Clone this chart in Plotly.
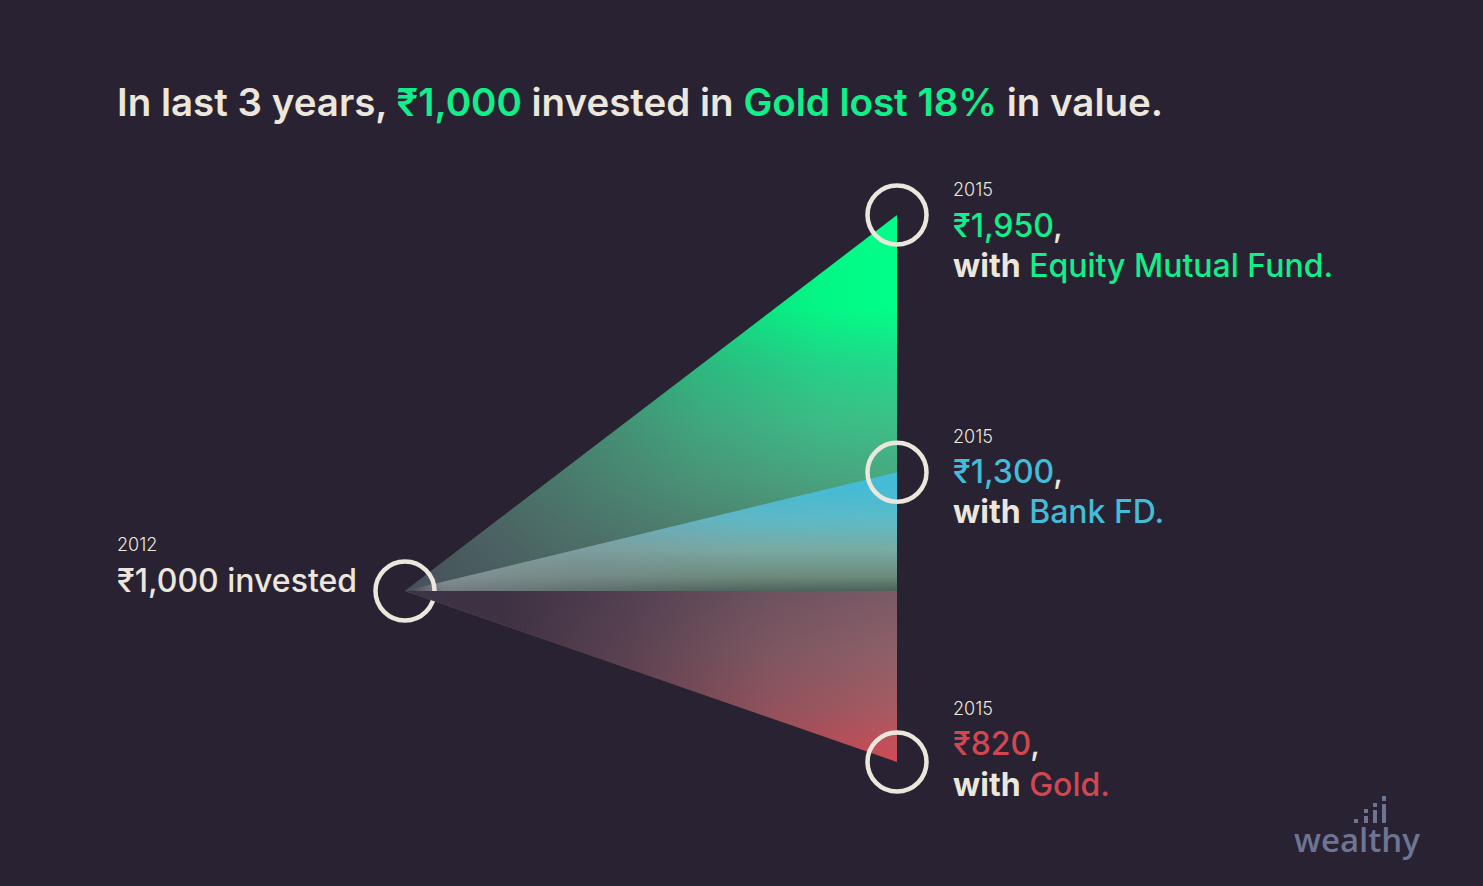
import plotly.graph_objects as go

# ---------------- data ----------------
start_year = 2012
end_year = 2015
invested = 1000
funds = ["Equity Mutual Fund", "Bank FD", "Gold"]
end_values = [1950, 1300, 820]

# ---------------- style ----------------
W, H = 1483, 886
BG = "#282233"
CREAM = "#ece7dc"
GREEN = "#12ef8a"
BLUE = "#45bcd6"
RED = "#d2474f"
fund_colors = [GREEN, BLUE, RED]
FONT = "Inter"


def px(x):
    return x / W


def py(y):
    return 1 - y / H


# vertical gradient of each wedge (0 = lowest value, 1 = highest value)
v_scales = [
    [[0, "#4a6a64"], [0.15, "#4f8a74"], [0.3, "#48a880"], [0.45, "#3cc088"], [0.6, "#22d88a"],
     [0.75, "#00ff88"], [1, "#00ff88"]],
    [[0, "#4c6058"], [0.12, "#6a8a7a"], [0.35, "#78aca4"], [0.6, "#5cbcc8"], [0.85, "#45bcd6"], [1, "#45bcd6"]],
    [[0, "#d24a55"], [0.3, "#a85a62"], [0.65, "#8e6068"], [1, "#7a5a66"]],
]
# horizontal fade towards the starting point
h_scales = [
    [[0, "rgba(70,78,88,0.92)"], [0.3, "rgba(75,90,95,0.62)"], [0.6, "rgba(75,90,95,0.25)"],
     [0.85, "rgba(75,90,95,0.05)"], [1, "rgba(75,90,95,0)"]],
    [[0, "rgba(60,55,72,0.9)"], [0.08, "rgba(150,150,165,0.55)"], [0.35, "rgba(130,135,150,0.4)"],
     [0.7, "rgba(130,135,150,0.08)"], [1, "rgba(130,135,150,0)"]],
    [[0, "rgba(60,52,70,1)"], [0.2, "rgba(50,42,60,0.85)"], [0.45, "rgba(55,45,65,0.6)"],
     [0.75, "rgba(60,50,70,0.2)"], [1, "rgba(60,50,70,0)"]],
]

fig = go.Figure()

for i, (name, val) in enumerate(zip(funds, end_values)):
    yaxis = "y" if val >= invested else "y2"
    xs = [start_year, end_year, end_year, start_year]
    ys = [invested, val, invested, invested]
    fig.add_trace(go.Scatter(x=xs, y=ys, yaxis=yaxis, mode="none", fill="toself",
                             fillgradient=dict(type="vertical", colorscale=v_scales[i]),
                             hoverinfo="skip", showlegend=False))
    fig.add_trace(go.Scatter(x=xs, y=ys, yaxis=yaxis, mode="none", fill="toself",
                             fillgradient=dict(type="horizontal", colorscale=h_scales[i]),
                             hoverinfo="skip", showlegend=False))

circle = dict(symbol="circle-open", size=59, color=CREAM, line=dict(width=4.5, color=CREAM))
for val in end_values:
    yaxis = "y" if val >= invested else "y2"
    fig.add_trace(go.Scatter(x=[end_year], y=[val], yaxis=yaxis, mode="markers", marker=circle,
                             cliponaxis=False, hoverinfo="skip", showlegend=False))
fig.add_trace(go.Scatter(x=[start_year], y=[invested], mode="markers", marker=circle,
                         cliponaxis=False, hoverinfo="skip", showlegend=False))

# ---------------- axes (hidden) ----------------
base_px = 591
up_px_per_unit = 376 / (max(end_values) - invested)
down_px_per_unit = 171 / (invested - min(end_values))
x0_px, x1_px = 405, 897
yr_px = (x1_px - x0_px) / (end_year - start_year)

fig.update_layout(
    width=W, height=H,
    margin=dict(l=0, r=0, t=0, b=0),
    paper_bgcolor=BG, plot_bgcolor=BG,
    showlegend=False,
    xaxis=dict(range=[start_year - x0_px / yr_px, start_year + (W - x0_px) / yr_px],
               visible=False, fixedrange=True),
    yaxis=dict(domain=[py(base_px), 1], range=[invested, invested + base_px / up_px_per_unit],
               visible=False, fixedrange=True),
    yaxis2=dict(domain=[0, py(base_px)], anchor="x",
                range=[invested - (H - base_px) / down_px_per_unit, invested],
                visible=False, fixedrange=True),
)

# ---------------- text ----------------
ann = []


def text(x, y, s, size, weight=400, color=CREAM, family=FONT):
    ann.append(dict(x=px(x - 2), y=py(y), xref="paper", yref="paper", xanchor="left", yanchor="middle",
                    text=s, showarrow=False, font=dict(family=family, size=size, color=color, weight=weight)))


gold_loss = round((invested - end_values[2]) / invested * 100)
title = (f'In last 3 years, <span style="color:{GREEN}">₹{invested:,}</span> invested in '
         f'<span style="color:{GREEN}">Gold lost {gold_loss}%</span> in value.')
text(117, 102, title, 38.5, 600)

text(117, 544, str(start_year), 18, 300)
text(117, 580, f"₹{invested:,} invested", 32, 500)

year_y = [189, 436, 708]
val_y = [225, 471, 743]
desc_y = [265, 512, 784]
for i, (name, val) in enumerate(zip(funds, end_values)):
    c = fund_colors[i]
    text(953, year_y[i], str(end_year), 18, 300)
    text(953, val_y[i], f'<span style="color:{c}">₹{val:,}</span>,', 32, 500)
    text(953, desc_y[i], f'<b>with</b> <span style="color:{c}">{name}.</span>', 32, 500)

# logo
LOGO = "#6d7592"
ann.append(dict(x=px(1357), y=py(839), xref="paper", yref="paper", xanchor="center", yanchor="middle",
                text="wealthy", showarrow=False,
                font=dict(family="Open Sans", size=33, color=LOGO, weight=600)))
fig.update_layout(annotations=ann)

shapes = []
for (cx, top, bot) in [(1356, 819, 823), (1366, 809, 813), (1366, 816, 823), (1375, 803, 807),
                       (1375, 810, 823), (1384, 796, 801), (1384, 804, 823)]:
    shapes.append(dict(type="rect", xref="paper", yref="paper", x0=px(cx - 2), x1=px(cx + 2),
                       y0=py(bot), y1=py(top), fillcolor=LOGO, line=dict(width=0), layer="above"))
fig.update_layout(shapes=shapes)

fig.write_html("out.html")
